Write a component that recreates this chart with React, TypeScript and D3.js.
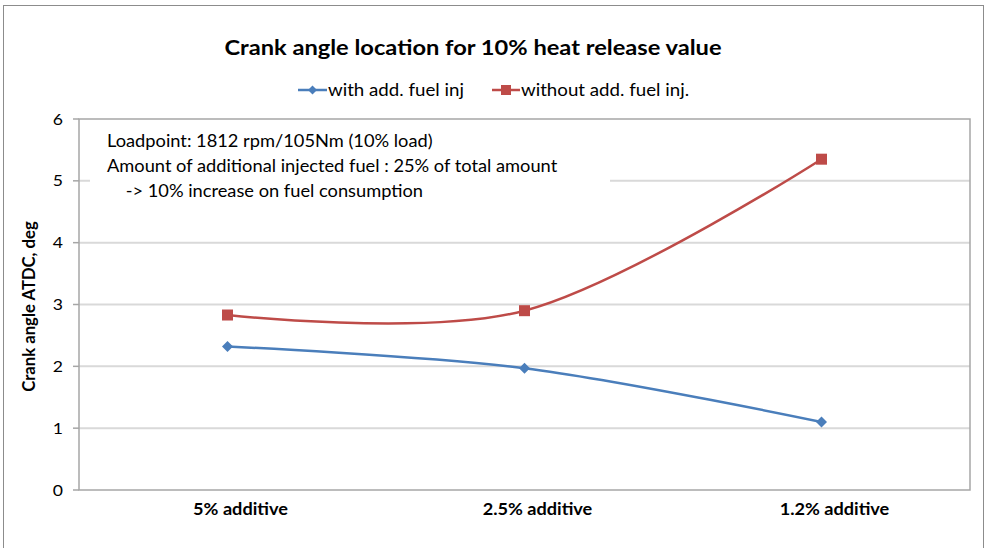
import React from "react";
import * as d3 from "d3";

const categories = ["5% additive", "2.5% additive", "1.2% additive"];
const withFuel = [2.32, 1.97, 1.1];
const withoutFuel = [2.83, 2.9, 5.35];
const yTicks = [0, 1, 2, 3, 4, 5, 6];
const seriesNames = ["with add. fuel inj", "without add. fuel inj."];
const notes = [
  "Loadpoint: 1812 rpm/105Nm (10% load)",
  "Amount of additional injected fuel : 25% of total amount",
  "    -> 10% increase on fuel consumption",
];

const W = 989, H = 548;
const M = { left: 79, right: 970, top: 119, bottom: 490 };
const BLUE = "#4a7ebb";
const RED = "#be4b48";
const FONT = "Lato, 'Open Sans', sans-serif";
const SX = 1.1;

function T(props: {
  x: number;
  y: number;
  size: number;
  bold?: boolean;
  anchor?: string;
  children: React.ReactNode;
}) {
  return (
    <text
      transform={`translate(${props.x},${props.y}) scale(${SX},1)`}
      textAnchor={props.anchor || "start"}
      fontSize={props.size}
      fontWeight={props.bold ? "bold" : "normal"}
      fill="#000"
      style={{ whiteSpace: "pre" }}
    >
      {props.children}
    </text>
  );
}

export default function App() {
  const x = d3.scaleBand().domain(categories).range([M.left, M.right]);
  const y = d3.scaleLinear().domain([0, 6]).range([M.bottom, M.top]);
  const cx = (c: string) => (x(c) as number) + x.bandwidth() / 2;
  const line = d3
    .line<number>()
    .x((_, i) => cx(categories[i]))
    .y((d) => y(d))
    .curve(d3.curveCardinal.tension(0));

  const diamond = (px: number, py: number, r = 5) =>
    `M${px},${py - r}L${px + r},${py}L${px},${py + r}L${px - r},${py}Z`;

  return (
    <svg width={W} height={H} style={{ position: "absolute", left: 0, top: 0, background: "#fff" }} fontFamily={FONT}>
      <rect x={3.5} y={5.5} width={980} height={560} fill="#fff" stroke="#8c8c8c" strokeWidth={1} />
      <T x={473} y={55} size={21.5} bold anchor="middle">
        Crank angle location for 10% heat release value
      </T>
      {/* legend */}
      <g>
        <line x1={298} x2={327} y1={90} y2={90} stroke={BLUE} strokeWidth={2.5} />
        <path d={diamond(312.5, 90, 4.5)} fill={BLUE} />
        <T x={328} y={95.5} size={17}>{seriesNames[0]}</T>
        <line x1={492} x2={520} y1={90} y2={90} stroke={RED} strokeWidth={2.5} />
        <rect x={501} y={85} width={10} height={10} fill={RED} />
        <T x={521} y={95.5} size={17}>{seriesNames[1]}</T>
      </g>
      {/* gridlines */}
      {yTicks.slice(1, -1).map((t) => (
        <line key={t} x1={M.left} x2={M.right} y1={y(t)} y2={y(t)} stroke="#d9d9d9" strokeWidth={2} />
      ))}
      <rect x={M.left} y={M.top} width={M.right - M.left} height={M.bottom - M.top} fill="none" stroke="#a6a6a6" strokeWidth={1.5} />
      {/* y ticks */}
      {yTicks.map((t) => (
        <g key={t}>
          <line x1={M.left - 6} x2={M.left} y1={y(t)} y2={y(t)} stroke="#a6a6a6" strokeWidth={1.5} />
          <T x={63} y={y(t) + 5.5} size={16} anchor="end">{String(t)}</T>
        </g>
      ))}
      {/* annotation box */}
      <rect x={90} y={125} width={520} height={80} fill="#fff" />
      {notes.map((n, i) => (
        <T key={i} x={107} y={147 + i * 25} size={16.6}>{n}</T>
      ))}
      {/* x labels */}
      {categories.map((c) => (
        <T key={c} x={cx(c) + 13} y={515} size={16.5} bold anchor="middle">{c}</T>
      ))}
      <text
        transform={`translate(35,${(M.top + M.bottom) / 2 + 2}) rotate(-90)`}
        textAnchor="middle"
        fontSize={16.7}
        fontWeight="bold"
        fill="#000"
      >
        Crank angle ATDC, deg
      </text>
      {/* series */}
      <path d={line(withFuel) as string} fill="none" stroke={BLUE} strokeWidth={2.5} />
      <path d={line(withoutFuel) as string} fill="none" stroke={RED} strokeWidth={2.5} />
      {withFuel.map((v, i) => (
        <path key={i} d={diamond(cx(categories[i]), y(v), 5.5)} fill={BLUE} />
      ))}
      {withoutFuel.map((v, i) => (
        <rect key={i} x={cx(categories[i]) - 5.5} y={y(v) - 5.5} width={11} height={11} fill={RED} />
      ))}
    </svg>
  );
}
